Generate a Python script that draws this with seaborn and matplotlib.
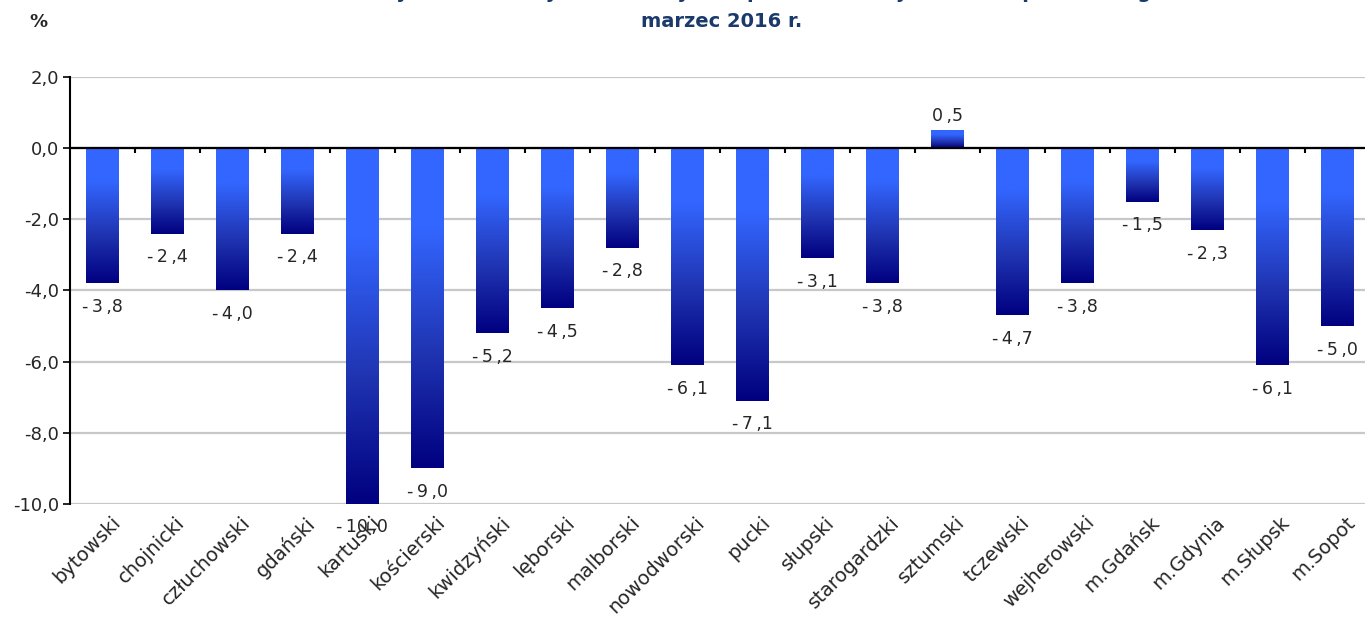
import numpy as np
import pandas as pd
import matplotlib
matplotlib.use("Agg")
import matplotlib.pyplot as plt
import matplotlib.transforms as mtransforms
import seaborn as sns
from matplotlib.colors import LinearSegmentedColormap

powiaty = ['bytowski', 'chojnicki', 'człuchowski', 'gdański', 'kartuski', 'kościerski',
           'kwidzyński', 'lęborski', 'malborski', 'nowodworski', 'pucki', 'słupski',
           'starogardzki', 'sztumski', 'tczewski', 'wejherowski', 'm.Gdańsk', 'm.Gdynia',
           'm.Słupsk', 'm.Sopot']
zmiana = [-3.8, -2.4, -4.0, -2.4, -10.0, -9.0, -5.2, -4.5, -2.8, -6.1, -7.1, -3.1,
          -3.8, 0.5, -4.7, -3.8, -1.5, -2.3, -6.1, -5.0]
y_ticks = [2, 0, -2, -4, -6, -8, -10]

# first title line is cut off at the top edge in the original
title_line1 = 'Dynamika liczby bezrobotnych w powiatach województwa pomorskiego'
title_line2 = 'marzec 2016 r.'

df = pd.DataFrame({'powiat': powiaty, 'zmiana': zmiana})

sns.set_style("white")
plt.rcParams['font.family'] = ['DejaVu Sans']

fig = plt.figure(figsize=(13.65, 6.22), dpi=100)
ax = fig.add_axes([0.0513, 0.19, 0.952, 0.686])

ax = sns.barplot(data=df, x='powiat', y='zmiana', color='#3366ff', width=0.5,
                 ax=ax, zorder=3)

# gradient fill: light at top, navy at bottom
cmap = LinearSegmentedColormap.from_list('bar', [(0, '#3366ff'), (0.25, '#3366ff'),
                                                  (0.65, '#1f33b0'), (1, '#000080')])
grad = np.linspace(0, 1, 256).reshape(-1, 1)
for p in ax.patches:
    x0, w = p.get_x(), p.get_width()
    y0, h = p.get_y(), p.get_height()
    lo, hi = min(y0, y0 + h), max(y0, y0 + h)
    p.set_facecolor('none')
    p.set_edgecolor('none')
    im = ax.imshow(grad, cmap=cmap, aspect='auto', extent=[x0, x0 + w, lo, hi],
                   origin='upper', zorder=3)
    im.set_clip_path(p)

ax.set_xlim(-0.5, len(powiaty) - 0.5)
ax.set_ylim(-10, 2)
ax.set_yticks(y_ticks)
ax.set_yticklabels([f"{v:.1f}".replace('.', ',') for v in y_ticks], fontsize=13)
ax.yaxis.grid(True, color='#c8c8c8', linewidth=1.6, zorder=0)
ax.set_axisbelow(True)
ax.tick_params(axis='y', length=5, width=1.2, color='black', pad=3, left=True)

for s in ['top', 'right', 'bottom']:
    ax.spines[s].set_visible(False)
ax.spines['left'].set_color('black')
ax.spines['left'].set_linewidth(1.5)

# zero line with category-boundary ticks
ax.axhline(0, color='black', linewidth=1.6, zorder=4)
bounds = np.arange(len(powiaty) + 1) - 0.5
ax.vlines(bounds[1:], 0, -0.14, color='black', linewidth=1.5, zorder=4)

ax.set_xticks(range(len(powiaty)))
ax.set_xticklabels(powiaty, rotation=45, ha='right', rotation_mode='anchor', fontsize=14)
ax.tick_params(axis='x', length=0, pad=8)
shift = mtransforms.ScaledTranslation(8 / 100, 2 / 100, fig.dpi_scale_trans)
for lab in ax.get_xticklabels():
    lab.set_transform(lab.get_transform() + shift)
ax.set_xlabel('')
ax.set_ylabel('')

# data labels (spaced like the original)
def fmt(v):
    s = f"{v:.1f}".replace('.', ',')
    return s.replace('-', '-\u2009').replace(',', '\u2009,')

for i, v in enumerate(zmiana):
    if v >= 0:
        ax.annotate(fmt(v), xy=(i, v), xytext=(0, 4), textcoords='offset points',
                    ha='center', va='bottom', fontsize=12.5, zorder=5)
    else:
        ax.annotate(fmt(v), xy=(i, v), xytext=(0, -17), textcoords='offset points',
                    ha='center', va='center', fontsize=12.5, zorder=5)

fig.text(0.566, 1 + 1.5 / 622, title_line1, ha='center', va='baseline', fontsize=14,
         fontweight='bold', color='#1a3a6b')
fig.text(0.529, 0.966, title_line2, ha='center', va='center', fontsize=14,
         fontweight='bold', color='#1a3a6b')
fig.text(0.028, 0.964, '%', ha='center', va='center', fontsize=13, fontweight='bold')

fig.savefig('out.png', dpi=100)
